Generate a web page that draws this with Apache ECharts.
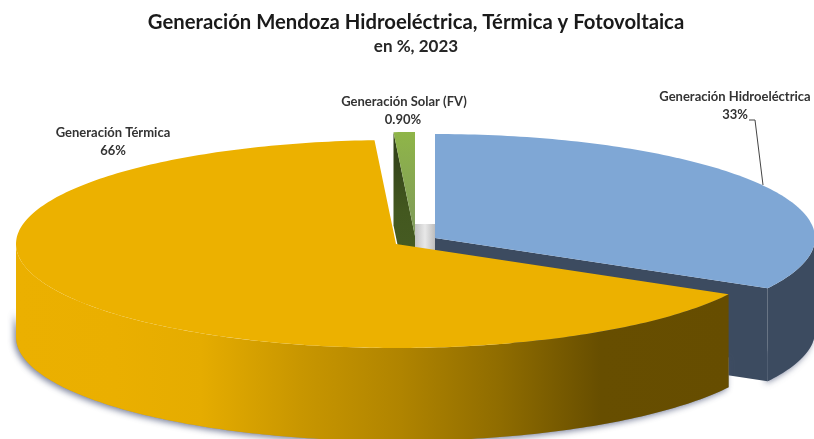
<!DOCTYPE html>
<html>
<head>
<meta charset="utf-8">
<style>html,body{margin:0;padding:0;background:#fff}#c{width:814px;height:439px}</style>
<script src="https://cdn.jsdelivr.net/npm/echarts@6/dist/echarts.min.js"></script>
</head>
<body>
<div id="c"></div>
<script>
const categories = ['Generación Hidroeléctrica', 'Generación Térmica', 'Generación Solar (FV)'];
const values = [33, 66, 0.9];
const valueLabels = ['33%', '66%', '0.90%'];
const titleText = 'Generación Mendoza Hidroeléctrica, Térmica y Fotovoltaica';
const subtitleText = 'en %, 2023';

const FONT = 'Lato, "Open Sans", sans-serif';
const RX = 380, RY = 104, DEPTH = 93;
const centres = [[435, 238], [396, 244], [415, 236]];
const labelPos = [[735, 97], [113, 133], [404, 102]];
const drawOrder = [0, 2, 1];
const total = values.reduce((a, b) => a + b, 0);
const rad = d => d * Math.PI / 180;

function rim(c, deg, dy) {
  return [c[0] + RX * Math.sin(rad(deg)), c[1] - RY * Math.cos(rad(deg)) + (dy || 0)];
}
function arc(c, a, b, dy) {
  const pts = [], n = Math.max(2, Math.ceil(Math.abs(b - a)));
  for (let i = 0; i <= n; i++) pts.push(rim(c, a + (b - a) * i / n, dy));
  return pts;
}
function poly(points, style) {
  return { type: 'polygon', silent: true, shape: { points }, style };
}
function wall(c, a, b, style) {
  return poly(arc(c, a, b).concat(arc(c, b, a, DEPTH)), style);
}
function castShadow(c, a, b) {
  return poly(arc(c, a, b, DEPTH - 30).concat(arc(c, b, a, DEPTH)), {
    fill: '#8a90a0', shadowBlur: 6, shadowColor: 'rgba(70,80,115,0.7)', shadowOffsetX: -2, shadowOffsetY: 2
  });
}
function grad(x0, y0, x1, y1, stops) {
  return new echarts.graphic.LinearGradient(x0, y0, x1, y1,
    stops.map(s => ({ offset: s[0], color: s[1] })));
}
function text(str, x, y) {
  return {
    type: 'text', silent: true,
    style: { text: str, x, y, align: 'center', verticalAlign: 'middle',
      font: 'bold 13px ' + FONT, fill: '#333333' }
  };
}

function renderItem(params, api) {
  const i = api.value(0);
  const before = values.slice(0, i).reduce((a, b) => a + b, 0);
  const a0 = before / total * 360, a1 = (before + values[i]) / total * 360;
  const c = centres[i], kids = [];
  if (i === 0) {
    const end = rim(c, a1), endB = rim(c, a1, DEPTH);
    kids.push(castShadow(c, 90, a1));
    kids.push(wall(c, 90, a1, { fill: '#3C4B60' }));
    kids.push(poly([c, end, endB, [c[0], c[1] + DEPTH]], { fill: '#3C4B60' }));
    kids.push({
      type: 'rect', silent: true,
      shape: { x: c[0] - 20, y: c[1] - 14, width: 20, height: 30 },
      style: { fill: grad(0, 0, 1, 0, [[0, '#C4C4C4'], [0.5, '#E8E8E8'], [1, '#BDBDBD']]) }
    });
    kids.push(poly([c].concat(arc(c, a0, a1)), { fill: '#7FA7D5' }));
    kids.push({
      type: 'polyline', silent: true,
      shape: { points: [[749, 120], [755, 120], [763, 185]] },
      style: { stroke: '#444', lineWidth: 1, fill: 'none' }
    });
  } else if (i === 1) {
    kids.push(castShadow(c, a0, 270));
    kids.push(wall(c, a0, 270, {
      fill: grad(0, 0, 1, 0, [[0, '#EBB000'], [0.14, '#EAAF00'], [0.26, '#E5AC00'], [0.40, '#C89600'], [0.54, '#B08400'], [0.68, '#8F6C00'], [0.82, '#674E00'], [1, '#664D00']])
    }));
    kids.push(poly([c].concat(arc(c, a0, a1)), { fill: '#ECB100' }));
  } else {
    const s = rim(c, a0), sB = rim(c, a0, DEPTH);
    kids.push(poly([c, s, sB, [c[0], c[1] + DEPTH]], {
      fill: grad(0, 0, 0, 1, [[0, '#2E3D18'], [0.4, '#43581F'], [1, '#4A6028']])
    }));
    kids.push(poly([c].concat(arc(c, a0, a1)), {
      fill: grad(0, 0, 0, 1, [[0, '#8FB548'], [1, '#7F9A5C']])
    }));
  }
  const p = labelPos[i];
  kids.push(text(categories[i], p[0], p[1]));
  kids.push(text(valueLabels[i], p[0] + (i === 2 ? -1 : 0), p[1] + 18));
  return { type: 'group', children: kids };
}

const chart = echarts.init(document.getElementById('c'), null, { renderer: 'canvas' });
chart.setOption({
  animation: false,
  backgroundColor: '#fff',
  title: [
    { text: titleText, left: 411, top: 7, textAlign: 'center',
      textStyle: { fontFamily: FONT, fontWeight: 'bold', fontSize: 20.3, color: '#1a1a1a' } },
    { text: subtitleText, left: 411, top: 33, textAlign: 'center',
      textStyle: { fontFamily: FONT, fontWeight: 'bold', fontSize: 17, color: '#262626' } }
  ],
  series: [{
    type: 'custom',
    coordinateSystem: 'none',
    clip: false,
    silent: true,
    renderItem,
    data: drawOrder.map(i => [i])
  }]
});
</script>
</body>
</html>
